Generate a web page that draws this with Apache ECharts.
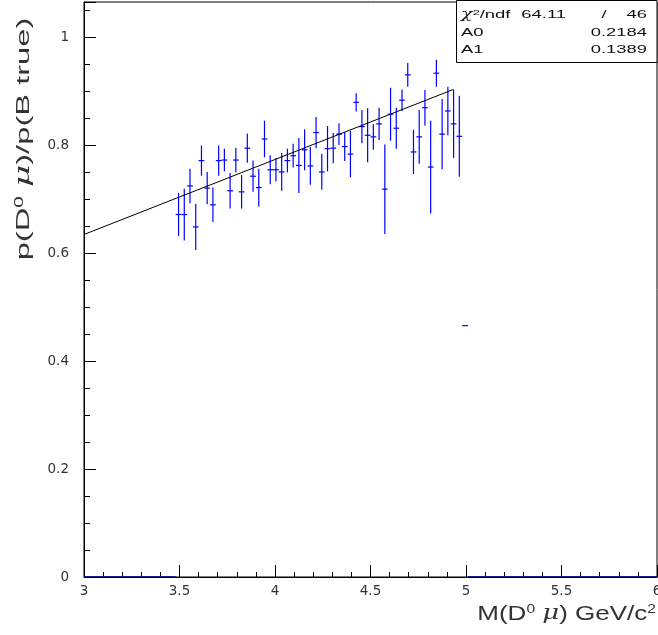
<!DOCTYPE html>
<html>
<head>
<meta charset="utf-8">
<script src="https://cdn.jsdelivr.net/npm/echarts@6/dist/echarts.min.js"></script>
<style>
html,body{margin:0;padding:0;background:#fff;}
#chart{width:658px;height:635px;}
</style>
</head>
<body>
<div id="chart"></div>
<script>
// bin centres of M(D0 mu) [GeV/c^2]
const massBins = [3.495,3.525,3.555,3.585,3.615,3.645,3.675,3.705,3.735,3.765,3.795,3.825,3.855,3.885,3.915,3.945,3.975,4.005,4.035,4.065,4.095,4.125,4.155,4.185,4.215,
  4.245,4.275,4.305,4.335,4.365,4.395,4.425,4.455,4.485,4.515,4.545,4.575,4.605,4.635,4.665,4.695,4.725,4.755,4.785,4.815,4.845,4.875,4.905,4.935,4.965,
  4.995];
// p(D0 mu)/p(B true)
const ratio = [0.672,0.672,0.725,0.649,0.772,0.721,0.690,0.772,0.773,0.716,0.773,0.714,0.795,0.743,0.722,0.812,0.755,0.755,0.751,0.772,0.781,0.763,0.792,0.762,0.824,
  0.751,0.794,0.795,0.821,0.798,0.784,0.880,0.835,0.819,0.816,0.840,0.719,0.858,0.832,0.884,0.931,0.788,0.816,0.870,0.760,0.934,0.821,0.864,0.840,0.817,
  0.466];
const ratioErr = [0.040,0.048,0.032,0.043,0.028,0.030,0.032,0.028,0.021,0.033,0.023,0.031,0.027,0.029,0.035,0.034,0.027,0.022,0.035,0.022,0.022,0.051,0.038,0.035,0.029,
  0.033,0.042,0.028,0.020,0.027,0.043,0.017,0.031,0.050,0.024,0.030,0.083,0.049,0.038,0.020,0.022,0.041,0.050,0.033,0.086,0.025,0.065,0.045,0.063,0.075,
  0.000];
const binHalfWidth = 0.015;
// empty-bin ranges drawn at zero
const emptyRanges = [[3.0, 3.48], [5.01, 6.0]];
// straight-line fit end points
const fitLine = [[3.0, 0.635], [4.935, 0.904]];
// stats box
const statsRows = [
  ['{c|χ}{s|2}/ndf', '64.11', '/', '46'],
  ['A0', '', '', '0.2184'],
  ['A1', '', '', '0.1389']
];
const xTicks = {min: 3, max: 6, interval: 0.5};
const yTicks = {min: 0, max: 1.066, interval: 0.2};

const chart = echarts.init(document.getElementById('chart'), null, {renderer: 'canvas'});

const pointData = massBins.map((x, i) => [x, ratio[i], ratioErr[i]]);

function renderErr(params, api) {
  const x = api.value(0), y = api.value(1), e = api.value(2);
  const lo = api.coord([x, y - e]);
  const hi = api.coord([x, y + e]);
  const l = api.coord([x - binHalfWidth, y]);
  const r = api.coord([x + binHalfWidth, y]);
  const st = {stroke: '#0000ff', lineWidth: 1.2};
  const children = [
    {type: 'line', shape: {x1: l[0], y1: l[1], x2: r[0], y2: r[1]}, style: st}
  ];
  if (e > 0) {
    children.push({type: 'line', shape: {x1: lo[0], y1: lo[1], x2: hi[0], y2: hi[1]}, style: st});
  }
  return {type: 'group', children: children};
}

function renderEmpty(params, api) {
  const a = api.coord([api.value(0), 0]);
  const b = api.coord([api.value(1), 0]);
  return {type: 'line', shape: {x1: a[0], y1: a[1] - 0.5, x2: b[0], y2: b[1] - 0.5}, style: {stroke: '#1a1a8a', lineWidth: 1}};
}

const FONT = '"Liberation Sans", Arial, Helvetica, sans-serif';
const TICKFONT = '"DejaVu Sans", sans-serif';
const statsGraphic = [
  {type: 'rect', shape: {x: 456.5, y: 0.5, width: 200.5, height: 62}, style: {fill: '#fff', stroke: '#000', lineWidth: 1}, z: 100}
];
const rowY = [15, 33, 50];
const SX = 1.6;
statsRows.forEach((row, i) => {
  statsGraphic.push({type: 'text', x: 461, y: rowY[i], z: 101, scaleX: SX,
    style: {text: row[0], font: '11.5px ' + FONT, fill: '#111', align: 'left', verticalAlign: 'middle',
      rich: {s: {fontSize: 8, fontFamily: FONT, verticalAlign: 'top', fill: '#111'},
             c: {fontSize: 12, fontFamily: '"DejaVu Serif", serif', fontStyle: 'italic', fill: '#111'}}}});
  if (row[1]) statsGraphic.push({type: 'text', x: 566, y: rowY[i], z: 101, scaleX: SX,
    style: {text: row[1], font: '11.5px ' + FONT, fill: '#111', align: 'right', verticalAlign: 'middle'}});
  if (row[2]) statsGraphic.push({type: 'text', x: 604, y: rowY[i], z: 101, scaleX: SX,
    style: {text: row[2], font: '11.5px ' + FONT, fill: '#111', align: 'center', verticalAlign: 'middle'}});
  statsGraphic.push({type: 'text', x: 647, y: rowY[i], z: 101, scaleX: SX,
    style: {text: row[3], font: '11.5px ' + FONT, fill: '#111', align: 'right', verticalAlign: 'middle'}});
});

const titleRich = {
  sup: {fontSize: 12, fontFamily: FONT, verticalAlign: 'top', fill: '#333'},
  mu: {fontSize: 20, fontFamily: '"DejaVu Serif", serif', fontStyle: 'italic', fill: '#333'}
};

const option = {
  animation: false,
  backgroundColor: '#fff',
  grid: {left: 84, right: 1, top: 2, bottom: 58, show: true, borderColor: '#000', borderWidth: 1, backgroundColor: 'transparent',
    containLabel: false, outerBoundsMode: 'none'},
  xAxis: {
    type: 'value', min: xTicks.min, max: xTicks.max, interval: xTicks.interval,
    axisLine: {show: true, lineStyle: {color: '#000', width: 1}},
    axisTick: {show: true, inside: true, length: 12, lineStyle: {color: '#000'}},
    minorTick: {show: true, splitNumber: 5, length: 5, lineStyle: {color: '#000'}},
    splitLine: {show: false},
    axisLabel: {color: '#333', fontSize: 13.5, fontFamily: TICKFONT, margin: 7, hideOverlap: false}
  },
  yAxis: {
    type: 'value', min: yTicks.min, max: yTicks.max, interval: yTicks.interval,
    axisLine: {show: true, lineStyle: {color: '#000', width: 1}},
    axisTick: {show: true, inside: true, length: 12, lineStyle: {color: '#000'}},
    minorTick: {show: true, splitNumber: 4, length: 6, lineStyle: {color: '#000'}},
    splitLine: {show: false},
    axisLabel: {color: '#333', fontSize: 13.5, fontFamily: TICKFONT, margin: 15, showMaxLabel: false,
      formatter: v => (Math.abs(v / 0.2 - Math.round(v / 0.2)) < 1e-6 ? String(+v.toFixed(1)) : '')}
  },
  graphic: [
    {type: 'text', x: 24, y: 139, rotation: Math.PI / 2, scaleX: 1.72,
      style: {text: 'p(D{sup|0} {mu|μ})/p(B true)', font: '19px ' + FONT, fill: '#333', align: 'center', verticalAlign: 'middle', rich: titleRich}},
    {type: 'text', x: 656, y: 614, scaleX: 1.3,
      style: {text: 'M(D{sup|0} {mu|μ}) GeV/c{sup|2}', font: '20px ' + FONT, fill: '#333', align: 'right', verticalAlign: 'middle', rich: titleRich}}
  ].concat(statsGraphic),
  series: [
    {type: 'custom', name: 'empty', renderItem: renderEmpty, data: emptyRanges, z: 3, silent: true},
    {type: 'custom', name: 'ratio', renderItem: renderErr, data: pointData, z: 4, clip: true, silent: true},
    {type: 'line', name: 'fit', data: fitLine, showSymbol: false, symbol: 'none',
      lineStyle: {color: '#000', width: 1}, z: 5, silent: true}
  ]
};
chart.setOption(option);
</script>
</body>
</html>
